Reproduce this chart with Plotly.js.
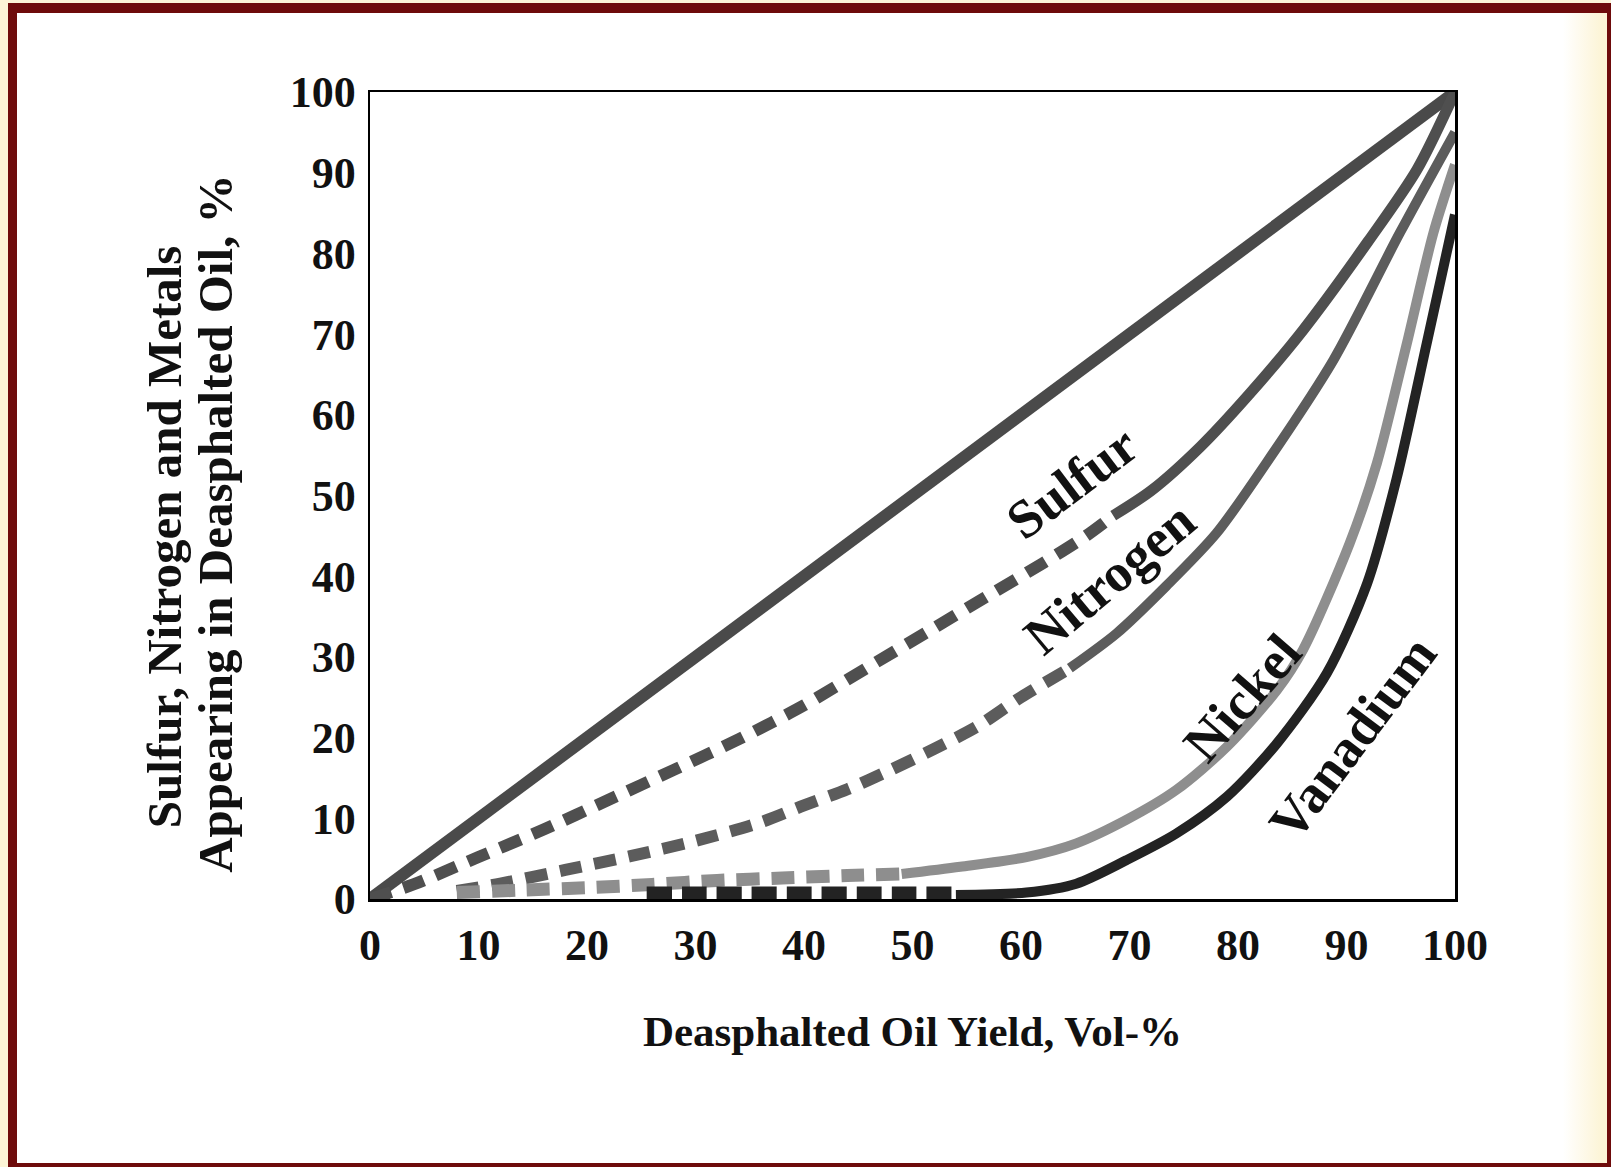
<!DOCTYPE html>
<html>
<head>
<meta charset="utf-8">
<script src="https://cdn.plot.ly/plotly-3.0.1.min.js"></script>
<style>
  html, body { margin:0; padding:0; width:1611px; height:1167px; overflow:hidden; background:#fcf4d6; }
  #frame { position:absolute; left:8px; top:3px; width:1608px; height:1169px; box-sizing:border-box;
           border:9px solid #6e0b0b; border-top-width:10px;
           background:linear-gradient(to right, #ffffff 0px, #ffffff 1546px, #fcf4d6 1585px); }
  #chart { position:absolute; left:0; top:0; width:1611px; height:1167px; }
</style>
</head>
<body>
<div id="frame"></div>
<div id="chart"></div>
<script>
// ---- data (x: DAO yield, vol-%; y: % appearing in DAO) ----
const diagonalX = [0, 100];
const diagonalY = [0, 100];

const sulfurDashX  = [0, 4, 10, 16, 22, 28, 34, 40, 46, 52, 57, 62, 66, 68.5];
const sulfurDashY  = [0, 1.8, 5.2, 8.6, 12.3, 16, 19.8, 24, 28.8, 33.6, 37.6, 41.6, 45, 47.5];
const sulfurSolidX = [68.5, 72, 76.5, 81, 86, 92, 96.5, 100];
const sulfurSolidY = [47.5, 50.6, 56, 62.5, 70.5, 81.5, 90.4, 100];

const nitrogenDashX  = [8, 12, 18, 24, 30, 36, 40, 44, 48, 52, 56, 60, 64.5];
const nitrogenDashY  = [1, 1.9, 3.6, 5.3, 7.2, 9.5, 11.6, 13.6, 16, 18.6, 21.4, 25, 28.6];
const nitrogenSolidX = [64.5, 68.8, 73.4, 78, 82.6, 88.8, 94.9, 100];
const nitrogenSolidY = [28.6, 32.9, 38.8, 45.3, 54, 66.8, 82.5, 95];

const nickelDashX  = [8, 14, 20, 26, 32, 38, 44, 49];
const nickelDashY  = [0.8, 1.1, 1.4, 1.8, 2.3, 2.6, 2.9, 3.1];
const nickelSolidX = [49, 54.4, 60.5, 65.1, 69.7, 74.3, 79, 83.6, 86, 90.3, 92.8, 95.5, 98, 100];
const nickelSolidY = [3.1, 4.0, 5.2, 6.9, 9.8, 13.5, 18.9, 25.9, 30.9, 44.1, 54, 68.5, 82.5, 91];

const vanadiumDashX  = [25.5, 30, 35, 40, 45, 50, 54];
const vanadiumDashY  = [0.5, 0.5, 0.5, 0.5, 0.5, 0.5, 0.5];
const vanadiumSolidX = [54, 60.5, 65.1, 69.7, 74.3, 79, 83.6, 88.2, 91.9, 94.6, 97.4, 100];
const vanadiumSolidY = [0.5, 0.8, 1.9, 4.8, 8.1, 12.7, 19.3, 28, 39.1, 52, 68.9, 84.8];

const labelNames = ['Sulfur', 'Nitrogen', 'Nickel', 'Vanadium'];
const labelX = [64.7, 68.2, 80.4, 90.6];
const labelY = [51.5, 39.8, 24.9, 19.9];
const labelAngle = [-37, -40, -49, -53];

const xTickVals = [0, 10, 20, 30, 40, 50, 60, 70, 80, 90, 100];
const yTickVals = [0, 10, 20, 30, 40, 50, 60, 70, 80, 90, 100];

// ---- styling ----
const FONT = 'Liberation Serif, Times New Roman, serif';
const colSulfur = '#4f4f4f', colNitrogen = '#5c5c5c', colNickel = '#8e8e8e', colVanadium = '#232323', colDiag = '#4a4a4a';

function tr(x, y, color, width, dash) {
  return { x: x, y: y, type: 'scatter', mode: 'lines', hoverinfo: 'skip', showlegend: false,
           cliponaxis: false,
           line: { color: color, width: width, dash: dash, shape: 'spline', smoothing: 0.8 } };
}

const traces = [
  tr(diagonalX, diagonalY, colDiag, 12, 'solid'),
  tr(sulfurDashX, sulfurDashY, colSulfur, 12, '22px,13px'),
  tr(sulfurSolidX, sulfurSolidY, colSulfur, 11, 'solid'),
  tr(nitrogenDashX, nitrogenDashY, colNitrogen, 12, '22px,13px'),
  tr(nitrogenSolidX, nitrogenSolidY, colNitrogen, 10, 'solid'),
  tr(nickelDashX, nickelDashY, colNickel, 13, '23px,12px'),
  tr(nickelSolidX, nickelSolidY, colNickel, 10, 'solid'),
  tr(vanadiumDashX, vanadiumDashY, colVanadium, 17, '25px,10px'),
  tr(vanadiumSolidX, vanadiumSolidY, colVanadium, 10, 'solid')
];

const annotations = labelNames.map((t, i) => ({
  text: t, x: labelX[i], y: labelY[i], xref: 'x', yref: 'y', showarrow: false,
  textangle: labelAngle[i], font: { family: FONT, size: 54, color: '#111', weight: 700 }
}));
annotations.push({
  text: 'Sulfur, Nitrogen and Metals', xref: 'paper', yref: 'paper', x: -0.1899, y: 0.4495,
  xanchor: 'center', yanchor: 'middle', textangle: -90, showarrow: false,
  font: { family: FONT, size: 49, color: '#111', weight: 700 }
});
annotations.push({
  text: 'Appearing in Deasphalted Oil, %', xref: 'paper', yref: 'paper', x: -0.1419, y: 0.465,
  xanchor: 'center', yanchor: 'middle', textangle: -90, showarrow: false,
  font: { family: FONT, size: 49, color: '#111', weight: 700 }
});

const axisCommon = {
  range: [0, 100], showgrid: false, zeroline: false, showline: true, mirror: true,
  linecolor: '#000', linewidth: 2.5, ticks: '', fixedrange: true,
  tickfont: { family: FONT, size: 44, color: '#111', weight: 700 }
};

const layout = {
  width: 1611, height: 1167,
  margin: { l: 370, r: 156, t: 92, b: 268 },
  paper_bgcolor: 'rgba(0,0,0,0)', plot_bgcolor: 'rgba(0,0,0,0)',
  showlegend: false,
  xaxis: Object.assign({}, axisCommon, {
    tickmode: 'array', tickvals: xTickVals, ticktext: xTickVals.map(String), ticklabelstandoff: 6,
    title: { text: 'Deasphalted Oil Yield, Vol-%', standoff: 47,
             font: { family: FONT, size: 43, color: '#111', weight: 700 } }
  }),
  yaxis: Object.assign({}, axisCommon, {
    tickmode: 'array', tickvals: yTickVals, ticktext: yTickVals.map(String), ticklabelstandoff: 3
  }),
  annotations: annotations
};

Plotly.newPlot('chart', traces, layout, { staticPlot: true, displayModeBar: false });
</script>
</body>
</html>
